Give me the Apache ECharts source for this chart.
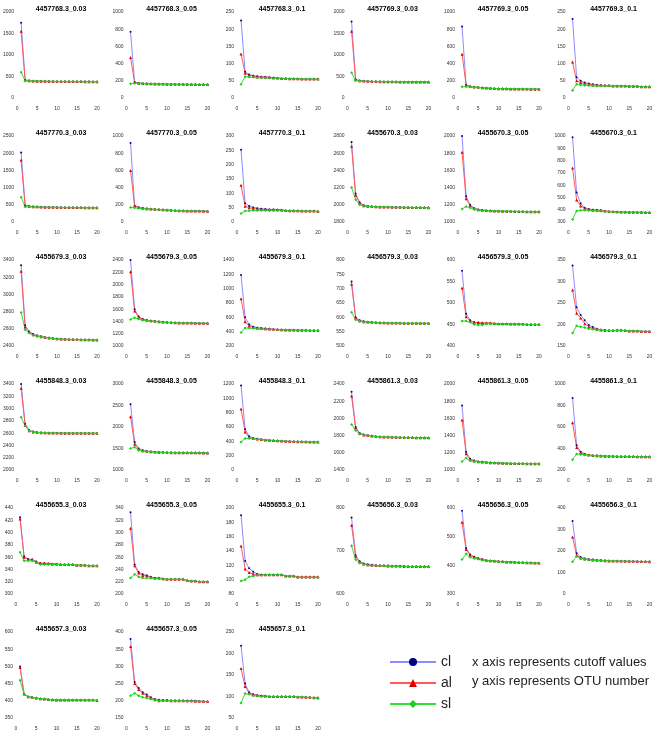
<!DOCTYPE html>
<html>
<head>
<meta charset="utf-8">
<script src="https://cdn.jsdelivr.net/npm/echarts@6/dist/echarts.min.js"></script>
<style>
  html, body { margin: 0; padding: 0; background: #fff; }
  #main { width: 662px; height: 744px; }
</style>
</head>
<body>
<div id="main"></div>
<script>
// cutoff values on the x axis
const cutoffs = [1, 2, 3, 4, 5, 6, 7, 8, 9, 10, 11, 12, 13, 14, 15, 16, 17, 18, 19, 20]

const panelNames = [
  '4457768.3_0.03', '4457768.3_0.05', '4457768.3_0.1', '4457769.3_0.03', '4457769.3_0.05', '4457769.3_0.1',
  '4457770.3_0.03', '4457770.3_0.05', '4457770.3_0.1', '4455670.3_0.03', '4455670.3_0.05', '4455670.3_0.1',
  '4455679.3_0.03', '4455679.3_0.05', '4455679.3_0.1', '4456579.3_0.03', '4456579.3_0.05', '4456579.3_0.1',
  '4455848.3_0.03', '4455848.3_0.05', '4455848.3_0.1', '4455861.3_0.03', '4455861.3_0.05', '4455861.3_0.1',
  '4455655.3_0.03', '4455655.3_0.05', '4455655.3_0.1', '4455656.3_0.03', '4455656.3_0.05', '4455656.3_0.1',
  '4455657.3_0.03', '4455657.3_0.05', '4455657.3_0.1'
]

// y axis ranges per panel
const yMin = [0, 0, 0, 0, 0, 0, 0, 0, 0, 1800, 1000, 300, 2400, 1000, 200, 500, 400, 150, 2000, 1000, 0, 1400, 1000, 200, 300, 200, 80, 600, 300, 0, 350, 150, 50]
const yMax = [2000, 1000, 250, 2000, 1000, 250, 2500, 1000, 300, 2800, 2000, 1000, 3400, 2400, 1400, 800, 600, 350, 3400, 3000, 1200, 2400, 2000, 1000, 440, 340, 200, 800, 600, 400, 600, 400, 250]
const yStep = [500, 200, 50, 500, 200, 50, 500, 200, 50, 200, 200, 100, 200, 200, 200, 50, 50, 50, 200, 500, 200, 200, 200, 200, 20, 20, 20, 100, 100, 100, 50, 50, 50]

const clValues = [
  [1750, 420, 405, 398, 394, 391, 389, 387, 386, 385, 384, 383, 383, 382, 382, 381, 381, 381, 380, 380],
  [770, 185, 175, 171, 168, 166, 165, 164, 163, 162, 161, 160, 160, 159, 159, 158, 158, 158, 157, 157],
  [225, 76, 68, 65, 63, 62, 61, 60, 59, 58, 57, 57, 56, 56, 56, 55, 55, 55, 55, 55],
  [1780, 430, 405, 396, 390, 386, 383, 381, 379, 378, 377, 376, 375, 375, 374, 374, 373, 373, 373, 372],
  [830, 150, 135, 128, 124, 120, 116, 113, 111, 109, 108, 107, 106, 105, 105, 104, 104, 103, 103, 103],
  [230, 60, 50, 45, 42, 40, 38, 37, 36, 36, 35, 35, 35, 35, 34, 34, 34, 33, 33, 33],
  [2020, 480, 460, 450, 442, 437, 433, 430, 428, 426, 424, 422, 421, 420, 419, 418, 417, 416, 415, 415],
  [920, 190, 172, 162, 156, 152, 148, 145, 142, 140, 136, 133, 131, 130, 129, 128, 127, 127, 126, 126],
  [252, 65, 56, 51, 48, 46, 45, 44, 44, 43, 42, 40, 39, 39, 39, 38, 38, 38, 38, 37],
  [2730, 2130, 2030, 1996, 1986, 1981, 1978, 1976, 1975, 1974, 1973, 1972, 1971, 1970, 1970, 1969, 1969, 1968, 1968, 1968],
  [2000, 1300, 1200, 1160, 1146, 1140, 1135, 1131, 1129, 1127, 1126, 1125, 1124, 1123, 1122, 1121, 1120, 1120, 1119, 1118],
  [990, 540, 450, 415, 405, 400, 398, 395, 390, 386, 384, 382, 381, 380, 380, 380, 379, 379, 378, 378],
  [3340, 2640, 2570, 2540, 2522, 2512, 2503, 2496, 2490, 2484, 2481, 2479, 2477, 2476, 2475, 2474, 2473, 2472, 2471, 2470],
  [2400, 1600, 1480, 1440, 1422, 1412, 1405, 1398, 1391, 1386, 1382, 1379, 1377, 1375, 1374, 1373, 1372, 1371, 1370, 1370],
  [1190, 600, 500, 470, 456, 450, 445, 440, 435, 430, 428, 425, 423, 422, 421, 420, 419, 418, 417, 416],
  [725, 600, 590, 586, 584, 583, 582, 581, 581, 580, 580, 580, 580, 579, 579, 579, 579, 579, 579, 579],
  [575, 475, 460, 455, 453, 452, 452, 452, 451, 451, 451, 451, 451, 451, 451, 451, 450, 450, 450, 450],
  [337, 240, 222, 210, 199, 194, 190, 188, 187, 186, 186, 186, 186, 186, 185, 185, 185, 184, 184, 184],
  [3400, 2750, 2650, 2625, 2615, 2610, 2606, 2604, 2603, 2602, 2601, 2600, 2600, 2600, 2599, 2599, 2599, 2598, 2598, 2598],
  [2530, 1650, 1500, 1460, 1440, 1428, 1420, 1415, 1411, 1408, 1405, 1403, 1402, 1401, 1400, 1400, 1400, 1399, 1399, 1398],
  [1180, 570, 470, 445, 435, 428, 420, 415, 412, 409, 405, 402, 400, 398, 396, 394, 393, 392, 391, 390],
  [2310, 1900, 1830, 1812, 1805, 1798, 1790, 1786, 1785, 1784, 1782, 1780, 1779, 1778, 1778, 1777, 1776, 1776, 1776, 1775],
  [1750, 1210, 1130, 1110, 1100, 1095, 1090, 1086, 1083, 1081, 1080, 1078, 1077, 1076, 1075, 1075, 1074, 1074, 1073, 1073],
  [870, 430, 370, 350, 340, 336, 334, 332, 330, 328, 327, 326, 326, 325, 325, 325, 324, 324, 323, 323],
  [425, 361, 357, 356, 353, 350, 350, 349, 349, 349, 348, 348, 348, 348, 347, 347, 347, 346, 346, 346],
  [333, 248, 236, 232, 230, 228, 226, 226, 225, 224, 224, 224, 224, 224, 222, 221, 221, 220, 220, 220],
  [190, 126, 116, 111, 108, 107, 107, 107, 107, 107, 107, 105, 105, 105, 103, 103, 103, 103, 103, 103],
  [778, 690, 676, 671, 669, 668, 667, 666, 666, 666, 665, 665, 665, 665, 664, 664, 664, 664, 664, 664],
  [590, 460, 438, 430, 425, 421, 418, 416, 415, 414, 413, 412, 412, 411, 410, 410, 409, 409, 408, 408],
  [340, 190, 172, 165, 162, 160, 158, 157, 156, 155, 154, 154, 153, 153, 152, 152, 152, 151, 151, 151],
  [500, 420, 412, 410, 408, 406, 405, 404, 403, 402, 402, 402, 402, 402, 402, 402, 402, 402, 402, 401],
  [380, 255, 237, 225, 218, 210, 205, 203, 202, 202, 201, 201, 201, 201, 200, 200, 200, 199, 199, 198],
  [218, 130, 110, 105, 103, 102, 101, 100, 100, 100, 100, 100, 100, 100, 99, 99, 98, 98, 97, 97]
]

const alValues = [
  [1550, 415, 402, 396, 392, 390, 388, 386, 385, 384, 383, 383, 382, 382, 381, 381, 380, 380, 380, 380],
  [470, 180, 172, 169, 167, 165, 164, 163, 162, 161, 160, 160, 159, 159, 158, 158, 158, 157, 157, 157],
  [128, 72, 67, 64, 62, 61, 61, 60, 59, 58, 57, 57, 56, 56, 56, 55, 55, 55, 55, 55],
  [1550, 425, 402, 394, 388, 385, 382, 380, 379, 378, 377, 376, 375, 375, 374, 374, 373, 373, 373, 372],
  [510, 150, 134, 128, 124, 120, 116, 113, 111, 109, 108, 107, 106, 105, 105, 104, 104, 103, 103, 103],
  [105, 50, 45, 42, 40, 38, 37, 37, 36, 36, 35, 35, 35, 35, 34, 34, 34, 33, 33, 33],
  [1800, 470, 455, 446, 440, 435, 432, 429, 427, 425, 423, 422, 421, 420, 419, 418, 417, 416, 415, 415],
  [600, 185, 168, 160, 155, 151, 147, 144, 142, 140, 136, 133, 131, 130, 129, 128, 127, 127, 126, 126],
  [128, 55, 50, 47, 45, 44, 44, 43, 43, 43, 42, 40, 39, 39, 39, 38, 38, 38, 38, 37],
  [2680, 2110, 2020, 1990, 1983, 1980, 1977, 1975, 1974, 1973, 1972, 1971, 1971, 1970, 1970, 1969, 1969, 1968, 1968, 1967],
  [1810, 1270, 1190, 1155, 1142, 1137, 1133, 1130, 1128, 1127, 1126, 1125, 1124, 1123, 1122, 1121, 1120, 1120, 1119, 1118],
  [740, 480, 430, 410, 402, 398, 396, 393, 390, 386, 385, 383, 382, 381, 380, 380, 379, 379, 378, 378],
  [3270, 2620, 2560, 2532, 2518, 2508, 2500, 2494, 2488, 2483, 2480, 2478, 2477, 2476, 2475, 2474, 2473, 2472, 2471, 2470],
  [2210, 1570, 1468, 1432, 1418, 1410, 1403, 1396, 1390, 1385, 1381, 1378, 1376, 1375, 1374, 1373, 1372, 1371, 1370, 1369],
  [860, 540, 480, 460, 450, 445, 440, 437, 433, 430, 427, 425, 423, 422, 421, 420, 419, 418, 417, 416],
  [715, 598, 588, 585, 584, 583, 582, 581, 581, 580, 580, 580, 580, 579, 579, 579, 579, 579, 579, 579],
  [535, 468, 458, 455, 455, 454, 454, 454, 453, 452, 452, 452, 451, 451, 451, 451, 450, 450, 450, 450],
  [280, 226, 215, 202, 195, 191, 189, 187, 186, 186, 186, 187, 187, 186, 185, 185, 185, 184, 184, 184],
  [3330, 2730, 2640, 2620, 2612, 2608, 2605, 2603, 2602, 2601, 2600, 2600, 2600, 2599, 2599, 2599, 2598, 2598, 2598, 2598],
  [2240, 1600, 1480, 1450, 1434, 1425, 1418, 1413, 1410, 1407, 1404, 1403, 1402, 1401, 1400, 1400, 1399, 1399, 1398, 1398],
  [850, 530, 455, 440, 432, 425, 418, 414, 411, 408, 404, 401, 399, 397, 395, 394, 393, 392, 391, 390],
  [2260, 1890, 1825, 1808, 1802, 1796, 1789, 1786, 1785, 1784, 1782, 1780, 1779, 1778, 1778, 1777, 1776, 1776, 1776, 1775],
  [1580, 1190, 1120, 1105, 1097, 1093, 1089, 1085, 1083, 1081, 1079, 1078, 1077, 1076, 1075, 1075, 1074, 1074, 1073, 1073],
  [640, 410, 360, 348, 340, 335, 333, 331, 329, 328, 327, 326, 326, 325, 325, 325, 324, 324, 323, 323],
  [422, 360, 356, 356, 352, 350, 350, 350, 349, 349, 348, 348, 348, 348, 347, 347, 347, 346, 346, 346],
  [307, 246, 234, 230, 230, 227, 226, 226, 225, 224, 224, 224, 224, 224, 222, 221, 221, 220, 220, 220],
  [147, 115, 110, 108, 107, 107, 107, 107, 107, 107, 107, 105, 105, 105, 104, 104, 104, 104, 104, 104],
  [760, 688, 674, 670, 668, 667, 666, 666, 666, 665, 665, 665, 665, 664, 664, 664, 664, 664, 664, 664],
  [550, 455, 435, 428, 424, 420, 417, 416, 415, 414, 413, 412, 412, 411, 410, 410, 409, 409, 408, 408],
  [265, 180, 168, 163, 160, 158, 157, 156, 155, 154, 154, 153, 153, 152, 152, 152, 151, 151, 151, 150],
  [497, 420, 412, 410, 408, 406, 405, 404, 403, 402, 402, 402, 402, 402, 402, 402, 402, 402, 402, 401],
  [358, 250, 233, 222, 215, 208, 203, 200, 201, 201, 200, 200, 200, 200, 200, 200, 199, 199, 198, 198],
  [165, 123, 108, 104, 103, 102, 101, 100, 100, 100, 100, 100, 100, 100, 99, 99, 98, 98, 97, 97]
]

const slValues = [
  [600, 400, 398, 394, 391, 389, 387, 386, 385, 384, 383, 382, 382, 381, 381, 381, 380, 380, 380, 379],
  [165, 172, 168, 166, 165, 164, 163, 162, 161, 160, 160, 159, 159, 158, 158, 158, 157, 157, 157, 156],
  [40, 62, 61, 60, 59, 59, 58, 58, 57, 57, 56, 56, 56, 56, 55, 55, 55, 55, 55, 54],
  [590, 405, 398, 392, 387, 384, 381, 379, 378, 377, 376, 375, 375, 374, 374, 373, 373, 373, 372, 372],
  [130, 132, 128, 125, 122, 118, 115, 112, 110, 109, 108, 107, 106, 105, 105, 104, 104, 103, 103, 102],
  [22, 40, 38, 37, 36, 36, 35, 35, 35, 35, 35, 35, 35, 35, 34, 34, 34, 33, 33, 33],
  [720, 445, 440, 436, 433, 430, 428, 426, 425, 424, 422, 421, 420, 419, 418, 417, 416, 416, 415, 414],
  [170, 165, 160, 155, 151, 148, 145, 143, 141, 139, 135, 132, 130, 129, 128, 127, 126, 126, 125, 125],
  [30, 38, 39, 40, 40, 40, 40, 40, 40, 40, 40, 39, 39, 39, 38, 38, 38, 38, 37, 37],
  [2200, 2060, 2000, 1985, 1980, 1978, 1976, 1975, 1974, 1973, 1972, 1971, 1970, 1970, 1969, 1969, 1968, 1968, 1967, 1967],
  [1150, 1180, 1165, 1148, 1138, 1133, 1130, 1128, 1127, 1126, 1125, 1124, 1123, 1122, 1121, 1120, 1120, 1119, 1118, 1118],
  [320, 390, 395, 395, 393, 392, 390, 388, 386, 384, 382, 380, 380, 379, 378, 378, 377, 377, 376, 376],
  [2790, 2590, 2550, 2526, 2514, 2505, 2498, 2492, 2487, 2482, 2479, 2477, 2476, 2475, 2474, 2473, 2472, 2471, 2470, 2469],
  [1430, 1460, 1438, 1420, 1410, 1404, 1398, 1393, 1388, 1384, 1380, 1378, 1376, 1375, 1374, 1373, 1372, 1371, 1370, 1369],
  [390, 452, 450, 445, 440, 437, 434, 431, 429, 427, 425, 423, 422, 421, 420, 419, 418, 417, 416, 415],
  [618, 592, 586, 584, 583, 582, 581, 581, 580, 580, 580, 580, 579, 579, 579, 579, 579, 579, 579, 578],
  [458, 458, 455, 450, 449, 449, 452, 452, 451, 451, 451, 451, 451, 451, 451, 450, 450, 450, 450, 449],
  [180, 197, 195, 193, 190, 189, 188, 187, 186, 186, 186, 186, 186, 186, 185, 185, 185, 184, 184, 184],
  [2860, 2720, 2640, 2617, 2610, 2606, 2604, 2602, 2601, 2600, 2600, 2599, 2599, 2599, 2598, 2598, 2598, 2598, 2597, 2597],
  [1500, 1530, 1460, 1438, 1428, 1420, 1415, 1411, 1408, 1405, 1403, 1402, 1401, 1400, 1400, 1399, 1399, 1398, 1398, 1397],
  [390, 440, 440, 435, 430, 425, 418, 414, 411, 408, 404, 401, 399, 397, 395, 394, 393, 392, 391, 390],
  [1930, 1860, 1820, 1806, 1800, 1795, 1788, 1785, 1784, 1783, 1781, 1780, 1779, 1778, 1777, 1777, 1776, 1776, 1775, 1775],
  [1100, 1140, 1108, 1100, 1095, 1091, 1087, 1084, 1082, 1080, 1079, 1077, 1076, 1075, 1075, 1074, 1074, 1073, 1073, 1072],
  [295, 350, 345, 340, 337, 334, 332, 330, 329, 328, 327, 326, 326, 325, 325, 324, 324, 324, 323, 323],
  [368, 354, 354, 354, 351, 348, 348, 348, 348, 348, 348, 348, 348, 348, 347, 347, 347, 346, 346, 346],
  [226, 232, 228, 226, 226, 226, 225, 225, 224, 224, 224, 224, 224, 224, 221, 221, 221, 220, 220, 220],
  [98, 100, 104, 105, 106, 106, 107, 107, 107, 107, 107, 105, 105, 105, 103, 103, 103, 103, 103, 103],
  [712, 680, 672, 669, 667, 666, 666, 665, 665, 665, 665, 664, 664, 664, 664, 664, 664, 664, 663, 663],
  [420, 440, 428, 424, 421, 418, 416, 415, 414, 413, 412, 412, 411, 410, 410, 409, 409, 408, 408, 407],
  [150, 175, 165, 162, 159, 157, 156, 155, 154, 154, 153, 153, 152, 152, 152, 151, 151, 151, 150, 150],
  [460, 418, 412, 410, 408, 406, 405, 404, 403, 402, 402, 402, 402, 402, 402, 402, 402, 402, 402, 401],
  [215, 222, 215, 210, 208, 205, 202, 200, 200, 200, 200, 200, 200, 200, 199, 199, 199, 198, 198, 198],
  [85, 107, 105, 102, 101, 100, 100, 100, 100, 100, 100, 100, 100, 100, 99, 99, 98, 98, 97, 96]
]

const chart = echarts.init(document.getElementById('main'))
const font = 'Liberation Sans, Arial, sans-serif'
const colW = 110.5
const rowH = 124

const titles = []
const grids = []
const xAxes = []
const yAxes = []
const series = []

panelNames.forEach((name, i) => {
  const r = Math.floor(i / 6)
  const c = i % 6
  titles.push({
    text: name,
    left: 56 + c * colW,
    top: 1 + r * rowH,
    textAlign: 'center',
    textStyle: { fontSize: 7, fontWeight: 'bold', color: '#000', fontFamily: font }
  })
  grids.push({ left: 16 + c * colW, top: 12 + r * rowH, width: 81, height: 86 })
  xAxes.push({
    type: 'value',
    gridIndex: i,
    min: 0,
    max: 20,
    interval: 5,
    axisLine: { show: false },
    axisTick: { show: false },
    splitLine: { show: false },
    axisLabel: { fontSize: 5, color: '#333', margin: 8, fontFamily: font }
  })
  yAxes.push({
    type: 'value',
    gridIndex: i,
    min: yMin[i],
    max: yMax[i],
    interval: yStep[i],
    axisLine: { show: false },
    axisTick: { show: false },
    splitLine: { show: false },
    axisLabel: { fontSize: 5, color: '#333', margin: 3, fontFamily: font, formatter: v => String(v) }
  })
  const pairs = arr => arr.map((v, k) => [cutoffs[k], v])
  series.push({
    name: 'cl', type: 'line', xAxisIndex: i, yAxisIndex: i,
    data: pairs(clValues[i]),
    symbol: 'circle', symbolSize: 2,
    lineStyle: { color: '#8c8cff', width: 1 },
    itemStyle: { color: '#000080' },
    showAllSymbol: true, silent: true, animation: false
  })
  series.push({
    name: 'al', type: 'line', xAxisIndex: i, yAxisIndex: i,
    data: pairs(alValues[i]),
    symbol: 'triangle', symbolSize: 3,
    lineStyle: { color: '#ff5a5a', width: 1 },
    itemStyle: { color: '#e00000' },
    showAllSymbol: true, silent: true, animation: false
  })
  series.push({
    name: 'sl', type: 'line', xAxisIndex: i, yAxisIndex: i,
    data: pairs(slValues[i]),
    symbol: 'diamond', symbolSize: 3,
    lineStyle: { color: '#33e033', width: 1 },
    itemStyle: { color: '#22cc22' },
    showAllSymbol: true, silent: true, animation: false
  })
})

chart.setOption({
  backgroundColor: '#fff',
  animation: false,
  title: titles,
  grid: grids,
  xAxis: xAxes,
  yAxis: yAxes,
  series: series,
  legend: {
    data: ['cl', 'al', 'sl'],
    orient: 'vertical',
    left: 384,
    top: 650,
    itemWidth: 46,
    itemHeight: 10,
    itemGap: 7,
    textStyle: { fontSize: 14, color: '#222', fontFamily: font }
  },
  graphic: [
    { type: 'text', left: 472, top: 656, style: { text: 'x axis represents cutoff values', fontSize: 13, fill: '#222', fontFamily: font } },
    { type: 'text', left: 472, top: 675, style: { text: 'y axis represents OTU number', fontSize: 13, fill: '#222', fontFamily: font } }
  ]
})
</script>
</body>
</html>
